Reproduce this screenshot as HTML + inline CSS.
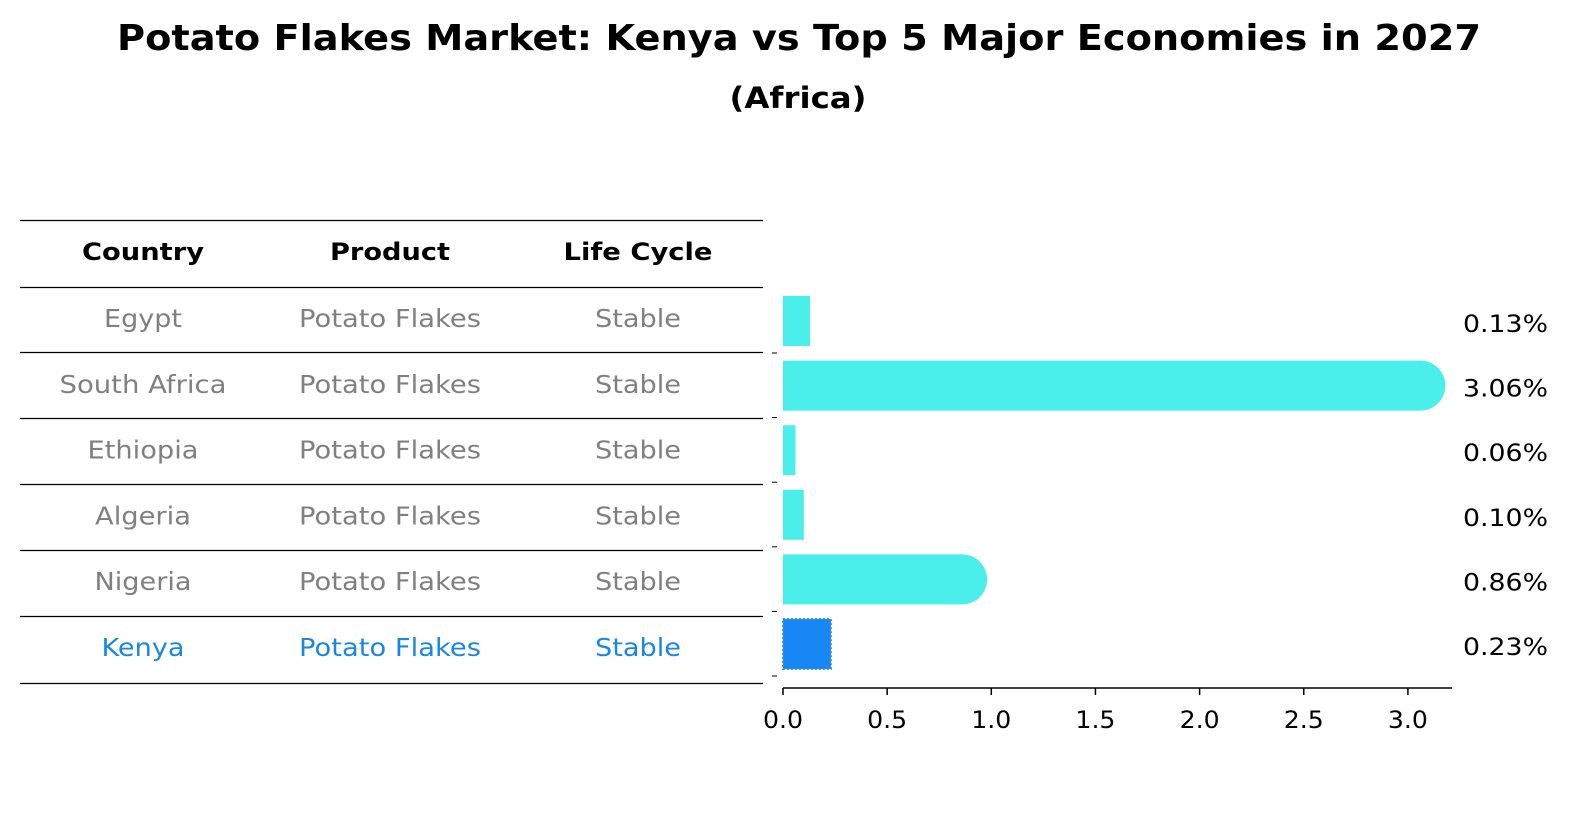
<!DOCTYPE html>
<html><head><meta charset="utf-8"><style>
body{margin:0;background:#fff;font-family:"DejaVu Sans","Liberation Sans",sans-serif}
text{font-family:"DejaVu Sans","Liberation Sans",sans-serif}
</style></head><body>
<svg width="1586" height="823" xmlns="http://www.w3.org/2000/svg">
<text x="799" y="50" text-anchor="middle" font-size="36" font-weight="bold" textLength="1364" lengthAdjust="spacingAndGlyphs">Potato Flakes Market: Kenya vs Top 5 Major Economies in 2027</text>
<text x="798" y="108" text-anchor="middle" font-size="29" font-weight="bold" textLength="137" lengthAdjust="spacingAndGlyphs">(Africa)</text>
<g id="table"></g>
<g id="bars"></g>
</svg>
<script>
const countries=["Egypt","South Africa","Ethiopia","Algeria","Nigeria","Kenya"];
const values=[0.13,3.06,0.06,0.10,0.86,0.23];
const labels=["0.13%","3.06%","0.06%","0.10%","0.86%","0.23%"];
const ticks=[0,0.5,1.0,1.5,2.0,2.5,3.0];
const NS="http://www.w3.org/2000/svg";
function mk(t,a,p,txt){const e=document.createElementNS(NS,t);for(const k in a)e.setAttribute(k,a[k]);if(txt!==undefined)e.textContent=txt;p.appendChild(e);return e;}
const tb=document.getElementById('table'),bg=document.getElementById('bars');
const x=v=>783+v*208.3;
const rowY=i=>318+i*65.8;
const barY=i=>321+i*64.6;
const cw={"Egypt":78,"South Africa":167,"Ethiopia":111,"Algeria":96,"Nigeria":97,"Kenya":83,"Potato Flakes":182,"Stable":86,"Country":122,"Product":120,"Life Cycle":149};
const lines=[220,287,352,418,484,550,616,683];
lines.forEach(y=>{const l=mk('line',{x1:20,x2:763,y1:y+0.5,y2:y+0.5,stroke:'#000','stroke-width':1.2},tb);

});
const cols=[143,390,638],heads=["Country","Product","Life Cycle"];
heads.forEach((h,j)=>{const t=mk('text',{x:cols[j],y:260,'text-anchor':'middle','font-size':24,'font-weight':'bold',textLength:cw[h],lengthAdjust:'spacingAndGlyphs'},tb,h);

});
countries.forEach((c,i)=>{const k=c==="Kenya";const col=k?'#1a87e0':'#808080';
[c,"Potato Flakes","Stable"].forEach((s,j)=>{const t=mk('text',{x:cols[j],y:rowY(i)+9,'text-anchor':'middle','font-size':25,fill:col,textLength:cw[s],lengthAdjust:'spacingAndGlyphs'},tb,s);

});
const cy=barY(i),h=50,w=x(values[i])-x(0);
let b;
if(k){b=mk('rect',{x:x(0),y:cy-h/2,width:w,height:h,fill:'#1787f5',stroke:'#3a8fe0','stroke-width':2,'stroke-dasharray':'2,2'},bg);}
else if(w>2*25){b=mk('path',{d:`M${x(0)},${cy-h/2}H${x(values[i])}A25,25 0 0 1 ${x(values[i])},${cy+h/2}H${x(0)}Z`,fill:'#4aeeea'},bg);}
else{b=mk('rect',{x:x(0),y:cy-h/2,width:w,height:h,fill:'#4aeeea'},bg);}


const t=mk('text',{x:1463,y:cy+11,'font-size':24,textLength:85,lengthAdjust:'spacingAndGlyphs'},bg,labels[i]);


const tk=mk('line',{x1:772,x2:777,y1:cy+32,y2:cy+32,stroke:'#000','stroke-width':1},bg);


});
const ax=mk('line',{x1:783,x2:1452,y1:688,y2:688,stroke:'#000','stroke-width':1.5},bg);


ticks.forEach(v=>{const l=mk('line',{x1:x(v),x2:x(v),y1:688,y2:695,stroke:'#000','stroke-width':1.5},bg);


const t=mk('text',{x:x(v),y:728,'text-anchor':'middle','font-size':24,textLength:40,lengthAdjust:'spacingAndGlyphs'},bg,v.toFixed(1));

});
</script>
</body></html>
